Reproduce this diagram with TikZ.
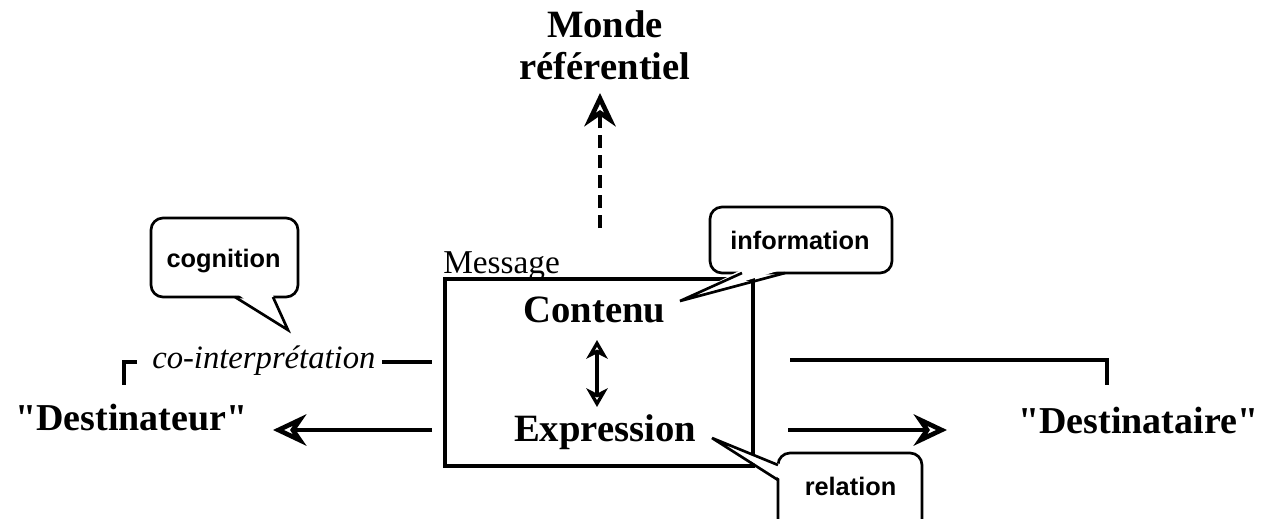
\documentclass[tikz,border=0pt]{standalone}
\usepackage{fontspec}
\setmainfont{Liberation Serif}
\newfontfamily\quotefont{Liberation Serif}[Ligatures=TeXOff]
\newfontfamily\calloutfont{Liberation Sans}
\usetikzlibrary{arrows.meta,calc}
\begin{document}
\begin{tikzpicture}[x=0.75pt,y=-0.75pt,
  bigtext/.style={font=\bfseries\fontsize{29}{31.5}\selectfont, inner sep=0pt},
  quotetext/.style={font=\quotefont\bfseries\fontsize{28.5}{31}\selectfont, inner sep=0pt},
  calltext/.style={font=\calloutfont\bfseries\fontsize{19}{22}\selectfont, inner sep=0pt},
  thickline/.style={line width=3.5pt},
  bigarrow/.style={line width=3.5pt, -{Stealth[open,length=25pt,width=23.5pt,inset=8pt]}},
  dasharrow/.style={bigarrow, dash pattern=on 10pt off 5pt},
  smallarrow/.style={line width=3pt, {Stealth[open,length=14pt,width=16pt,inset=4pt]}-{Stealth[open,length=14pt,width=16pt,inset=4pt]}},
  callbox/.style={draw, line width=2pt, fill=white, rounded corners=9pt},
  callptr/.style={line width=2pt, line join=miter},
]
\useasboundingbox (0,0) rectangle (1268,518);
\clip (0,0) rectangle (1268,518);

% texts
\node[bigtext, align=center, anchor=north] (monde) at (605,10) {Monde\\référentiel};
\node[draw, line width=3.5pt, outer sep=0pt, inner sep=0pt, minimum width=231pt, minimum height=140.25pt] (box) at (599,372.5) {};
\node[font=\fontsize{25}{30}\selectfont, inner sep=0pt, anchor=base west] (msg) at (443,273) {Message};
\node[bigtext, anchor=base] (cont) at (594.5,322) {Contenu};
\node[bigtext, anchor=base] (expr) at (605,441) {Expression};
\node[font=\itshape\fontsize{24.5}{29}\selectfont, inner sep=0pt, anchor=base west] (coint) at (152,368) {co-interprétation};
\node[quotetext, anchor=base west] (dest) at (15,430) {"Destinateur"};
\node[quotetext, anchor=base west] (destr) at (1018,433) {"Destinataire"};

% coordinates
\coordinate (ci1) at (382,362); \coordinate (ci2) at (432,362);
\coordinate (bl1) at (137,362); \coordinate (bl2) at (124,362); \coordinate (bl3) at (124,385);
\coordinate (br1) at (790,360); \coordinate (br2) at (1107,360); \coordinate (br3) at (1107,385);
\coordinate (la1) at (432,430); \coordinate (la2) at (273,430);
\coordinate (ra1) at (788,430); \coordinate (ra2) at (947,430);
\coordinate (up1) at (600,228); \coordinate (up2) at (600,93);
\coordinate (da1) at (597,340); \coordinate (da2) at (597,407);

% connectors
\draw[thickline] (ci1) -- (ci2);
\draw[thickline] (bl1) -- (bl2) -- (bl3);
\draw[thickline] (br1) -- (br2) -- (br3);
\draw[bigarrow] (la1) -- (la2);
\draw[bigarrow] (ra1) -- (ra2);
\draw[dasharrow] (up1) -- (up2);
\draw[smallarrow] (da1) -- (da2);

% callout: cognition
\draw[callbox] (151,218) rectangle (298,297);
\fill[white] (236,293) -- (288,330) -- (272,293) -- cycle;
\draw[callptr] (235,297) -- (288,330) -- (273,297);
\node[calltext, anchor=base] (cog) at (223.5,267) {cognition};

% callout: information
\draw[callbox] (710,207) rectangle (892,273);
\fill[white] (743,269) -- (680,301) -- (784,269) -- cycle;
\draw[callptr] (742,273) -- (680,301) -- (785,273);
\node[calltext, anchor=base] (info) at (800,249) {information};

% callout: relation
\draw[callbox] (778,453) rectangle (922,545);
\fill[white] (782,465) -- (712,438) -- (782,480) -- cycle;
\draw[callptr] (778,465) -- (712,438) -- (778,480);
\node[calltext, anchor=base] (rel) at (850.5,495) {relation};
\end{tikzpicture}
\end{document}
